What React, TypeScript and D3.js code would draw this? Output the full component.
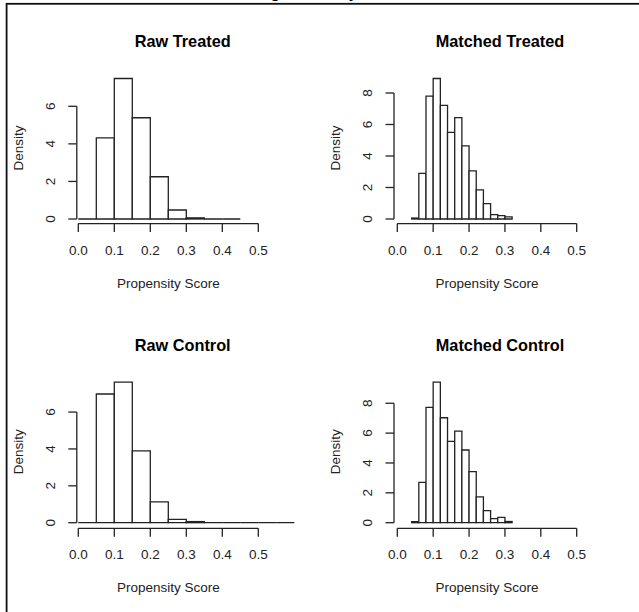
import React from "react";
import * as d3 from "d3";

// ---- data ----
const pageTitle = "Matching Summary";
const xTickValues = [0, 0.1, 0.2, 0.3, 0.4, 0.5];
const xTickLabels = ["0.0", "0.1", "0.2", "0.3", "0.4", "0.5"];
const rawYTicks = [0, 2, 4, 6];
const matchedYTicks = [0, 2, 4, 6, 8];

const rawTreatedBreaks = [0, 0.05, 0.1, 0.15, 0.2, 0.25, 0.3, 0.35, 0.4, 0.45];
const rawTreatedDensity = [0, 4.32, 7.48, 5.39, 2.25, 0.48, 0.06, 0, 0];

const rawControlBreaks = [0, 0.05, 0.1, 0.15, 0.2, 0.25, 0.3, 0.35, 0.4, 0.45, 0.5, 0.55, 0.6];
const rawControlDensity = [0, 6.98, 7.62, 3.89, 1.13, 0.18, 0.06, 0, 0, 0, 0, 0];

const matchedBreaks = [0.04, 0.06, 0.08, 0.1, 0.12, 0.14, 0.16, 0.18, 0.2, 0.22, 0.24, 0.26, 0.28, 0.3, 0.32];
const matchedTreatedDensity = [0.06, 2.9, 7.8, 8.92, 7.21, 5.5, 6.43, 4.64, 3.05, 1.85, 0.98, 0.28, 0.21, 0.14];
const matchedControlDensity = [0.07, 2.7, 7.72, 9.41, 7.03, 5.45, 6.13, 4.87, 3.42, 1.73, 0.81, 0.27, 0.36, 0.08];

const panelTitles = ["Raw Treated", "Matched Treated", "Raw Control", "Matched Control"];
const xLabel = "Propensity Score";
const yLabel = "Density";

const FONT = "'Liberation Sans', Arial, Helvetica, sans-serif";

type PanelProps = {
  title: string;
  breaks: number[];
  density: number[];
  yTicks: number[];
  xZero: number;
  xFive: number;
  yAxisX: number;
  y0: number;
  axisY: number;
  titleX: number;
  titleY: number;
};

function Panel(p: PanelProps) {
  const maxD = d3.max(p.density) as number;
  const xs = d3.scaleLinear().domain([0, 0.5]).range([p.xZero, p.xFive]);
  const ys = d3.scaleLinear().domain([0, maxD]).range([p.y0, p.y0 - 140.5]);
  const stroke = "#222";
  const sw = 1.3;
  const tickLen = 8.5;
  const yTop = ys(p.yTicks[p.yTicks.length - 1]);
  const xMid = (p.xZero + p.xFive) / 2;
  return (
    <g>
      <text x={p.titleX} y={p.titleY} textAnchor="middle" dominantBaseline="central"
        fontFamily={FONT} fontWeight="bold" fontSize={16.3} fill="#000">{p.title}</text>
      {p.density.map((d, i) => {
        const x1 = xs(p.breaks[i]);
        const x2 = xs(p.breaks[i + 1]);
        const yb = ys(0);
        const yt = ys(d);
        return (
          <path key={i} d={`M${x1},${yb}V${yt}H${x2}V${yb}Z`} fill="#fff" stroke={stroke} strokeWidth={sw} />
        );
      })}
      {/* x axis */}
      <line x1={xs(0)} x2={xs(0.5)} y1={p.axisY} y2={p.axisY} stroke={stroke} strokeWidth={sw} />
      {xTickValues.map((v, i) => (
        <g key={i}>
          <line x1={xs(v)} x2={xs(v)} y1={p.axisY} y2={p.axisY + tickLen} stroke={stroke} strokeWidth={sw} />
          <text x={xs(v)} y={p.axisY + 26.5} textAnchor="middle" dominantBaseline="central"
            fontFamily={FONT} fontSize={13.5} fill="#222">{xTickLabels[i]}</text>
        </g>
      ))}
      <text x={xMid} y={p.axisY + 59.5} textAnchor="middle" dominantBaseline="central"
        fontFamily={FONT} fontSize={13.5} fill="#222">{xLabel}</text>
      {/* y axis */}
      <line x1={p.yAxisX} x2={p.yAxisX} y1={ys(0)} y2={yTop} stroke={stroke} strokeWidth={sw} />
      {p.yTicks.map((v, i) => (
        <g key={i}>
          <line x1={p.yAxisX - tickLen} x2={p.yAxisX} y1={ys(v)} y2={ys(v)} stroke={stroke} strokeWidth={sw} />
          <text transform={`translate(${p.yAxisX - 26.5},${ys(v)}) rotate(-90)`} textAnchor="middle"
            dominantBaseline="central" fontFamily={FONT} fontSize={13.5} fill="#222">{String(v)}</text>
        </g>
      ))}
      <text transform={`translate(${p.yAxisX - 58.5},${p.y0 - 71}) rotate(-90)`} textAnchor="middle"
        dominantBaseline="central" fontFamily={FONT} fontSize={13.5} fill="#222">{yLabel}</text>
    </g>
  );
}

export default function App() {
  return (
    <svg width={639} height={612} style={{ position: "absolute", left: 0, top: 0, background: "#fff" }}>
      <rect x={0} y={0} width={639} height={612} fill="#fff" />
      <text x={210} y={-2.5} fontFamily={FONT} fontWeight="bold" fontSize={16} fill="#000">{pageTitle}</text>
      <rect x={6.6} y={3.8} width={700} height={700} fill="none" stroke="#111" strokeWidth={1.8} />
      <Panel title={panelTitles[0]} breaks={rawTreatedBreaks} density={rawTreatedDensity} yTicks={rawYTicks}
        xZero={78.3} xFive={258.3} yAxisX={76.8} y0={219} axisY={223.6} titleX={182.7} titleY={41} />
      <Panel title={panelTitles[1]} breaks={matchedBreaks} density={matchedTreatedDensity} yTicks={matchedYTicks}
        xZero={397.3} xFive={576.7} yAxisX={394} y0={219} axisY={223.6} titleX={500} titleY={41} />
      <Panel title={panelTitles[2]} breaks={rawControlBreaks} density={rawControlDensity} yTicks={rawYTicks}
        xZero={78.3} xFive={258.3} yAxisX={76.8} y0={522.7} axisY={528.3} titleX={182.7} titleY={345} />
      <Panel title={panelTitles[3]} breaks={matchedBreaks} density={matchedControlDensity} yTicks={matchedYTicks}
        xZero={397.3} xFive={576.7} yAxisX={394} y0={522.7} axisY={528.3} titleX={500} titleY={345} />
    </svg>
  );
}
